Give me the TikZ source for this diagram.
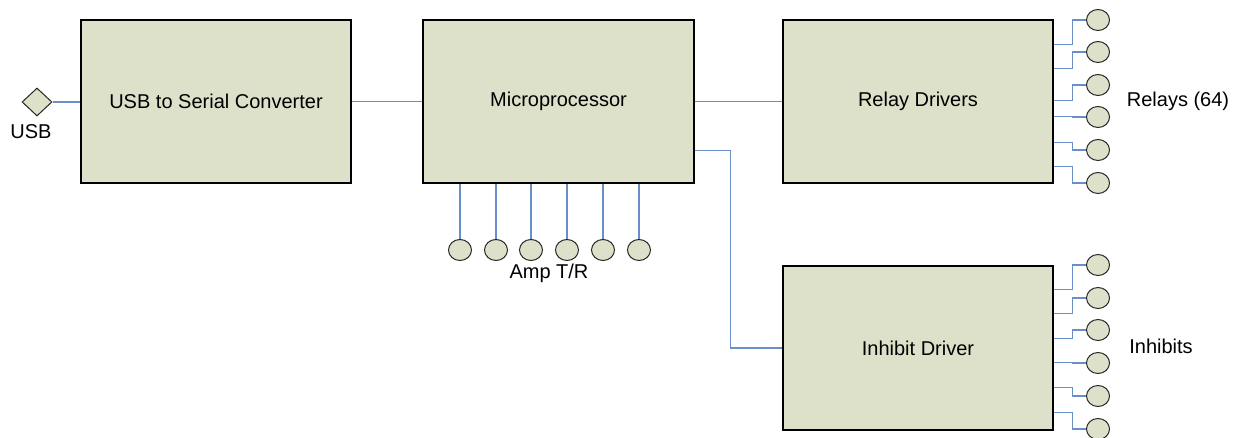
\documentclass[tikz,border=0pt]{standalone}
\usepackage{fontspec}
\setmainfont{Liberation Sans}
\usetikzlibrary{shapes.geometric}
\definecolor{boxfill}{HTML}{DDE1CA}
\definecolor{wire}{HTML}{6A8FC8}
\begin{document}
\begin{tikzpicture}[x=1pt,y=-1pt,
  blockbox/.style={draw=black,line width=1.3pt,fill=boxfill,rectangle,inner sep=0pt,font=\fontsize{20}{24}\selectfont},
  pin/.style={draw=black!85,line width=1pt,fill=boxfill,ellipse,minimum width=23pt,minimum height=21pt,inner sep=0pt},
  wireline/.style={draw=wire,line width=1.2pt},
  lbl/.style={font=\fontsize{20}{24}\selectfont,inner sep=0pt}]
\useasboundingbox (0,0) rectangle (1239,438);
% blocks
\node[blockbox,minimum width=270pt,minimum height=163pt] (usb) at (216,101.5) {USB to Serial Converter};
\node[blockbox,minimum width=271pt,minimum height=163pt] (mp) at (558.5,101.5) {Microprocessor};
\node[blockbox,minimum width=270pt,minimum height=163pt] (rd) at (918,101.5) {Relay Drivers};
\node[blockbox,minimum width=270pt,minimum height=164pt] (ih) at (918,348) {Inhibit Driver};
% usb port
\node[draw=black!85,line width=1pt,fill=boxfill,diamond,minimum width=30pt,minimum height=28pt,inner sep=0pt] (port) at (37,102) {};
\node[lbl] (usblbl) at (31,132) {USB};
% main connectors
\draw[wireline] (port.east) -- (port.east -| usb.west);
\draw[wireline] (usb.east) -- (mp.west);
\draw[wireline] (mp.east) -- (rd.west);
\draw[wireline] (mp.north east) ++(0,131) coordinate (mpo) -- ++(36,0) |- (ih.west);
% amp T/R
\foreach \i/\x in {1/460,2/496,3/531,4/567,5/603,6/639}{
  \node[pin] (a\i) at (\x,250) {};
  \draw[wireline] (a\i.north) -- (a\i.north |- mp.south);
}
\node[lbl] (amplbl) at (549,273) {Amp T/R};
% relays
\foreach \i/\cy/\off in {1/20/25,2/52/49,3/85/81,4/117/97,5/150/123,6/183/147}{
  \node[pin] (r\i) at (1098,\cy) {};
  \draw[wireline] (rd.north east) ++(0,\off) -- ++(19,0) |- (r\i.west);
}
\node[lbl] (rlbl) at (1178,101) {Relays (64)};
% inhibits
\foreach \i/\cy/\off in {1/265/24,2/298/48,3/330/73,4/363/97,5/396/122,6/429/147}{
  \node[pin] (h\i) at (1098,\cy) {};
  \draw[wireline] (ih.north east) ++(0,\off) -- ++(19,0) |- (h\i.west);
}
\node[lbl] (hlbl) at (1161,346) {Inhibits};
\end{tikzpicture}
\end{document}
